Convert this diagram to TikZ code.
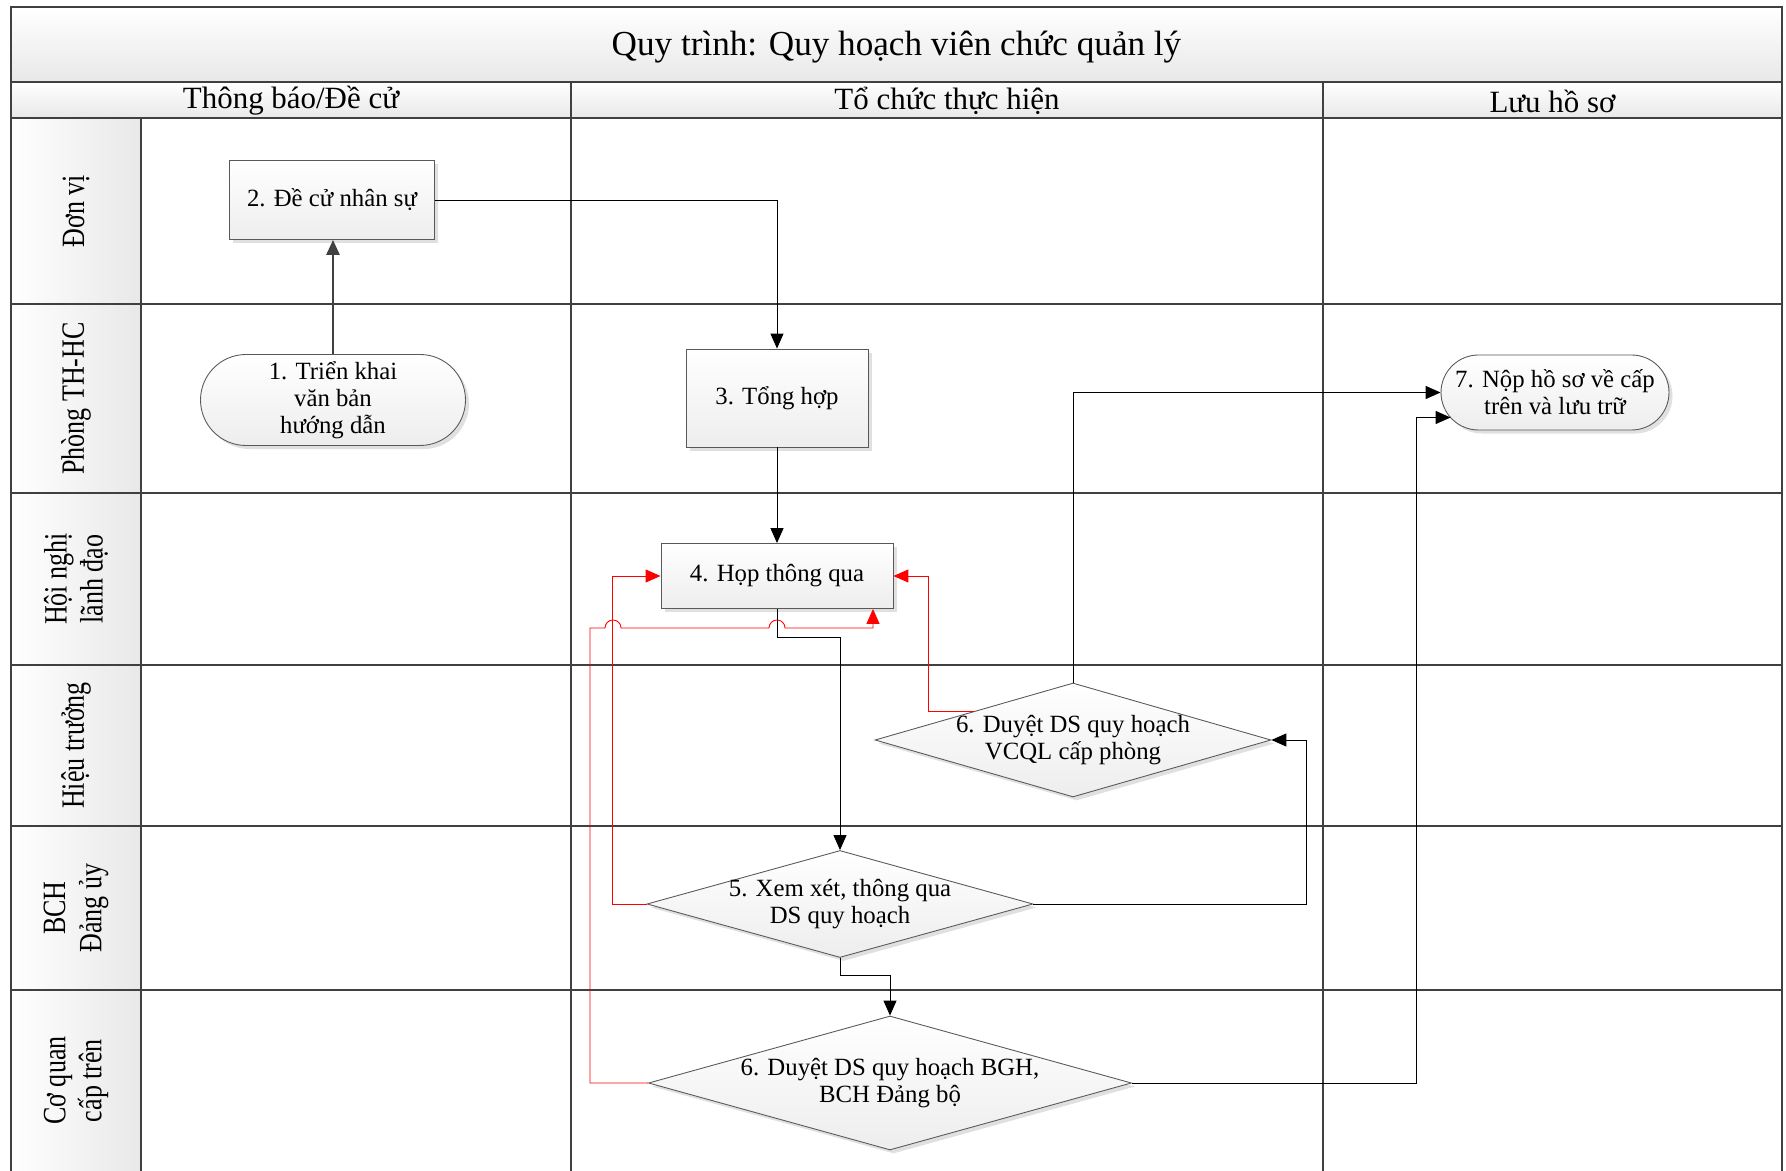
\documentclass[tikz,border=0pt]{standalone}
\usepackage{fontspec}
\setmainfont{Liberation Serif}
\newfontfamily\lanefont{Liberation Serif}[FakeStretch=0.8]
\usepackage{tikz}
\usepackage{xcolor}
\usetikzlibrary{arrows.meta,shapes.geometric,shapes.misc,shadows}
\tikzset{>={Triangle[length=8.5pt,width=7.4pt]}}
\tikzset{
  frame/.style={draw=black!75, line width=0.9pt},
  head/.style={font=\fontsize{17.6}{20}\selectfont},
  lane/.style={rotate=90, align=center, font=\lanefont\fontsize{18.5}{20.5}\selectfont},
  shape fill/.style={draw=black!65, line width=0.5pt, top color=white, bottom color=black!7,
    drop shadow={shadow xshift=2pt, shadow yshift=-2pt, fill=black!30, opacity=0.4},
    align=center, font=\fontsize{14.1}{15.4}\selectfont},
  box/.style={shape fill, rectangle, inner sep=0pt},
  term/.style={shape fill, rounded rectangle, inner sep=0pt},
  dec/.style={shape fill, diamond, aspect=3.5, inner xsep=-1cm, inner ysep=0pt},
  conn/.style={draw=black, line width=0.5pt, ->},
  redconn/.style={draw=red, line width=0.5pt, ->}
}
\begin{document}
\begin{tikzpicture}
    \useasboundingbox (0,0) rectangle (35.72,-23.42);
    \fill[top color=white, bottom color=black!9] (0.22,-0.14) rectangle (35.64,-1.64);
    \fill[top color=white, bottom color=black!9] (0.22,-1.64) rectangle (35.64,-2.36);
    \fill[left color=white, right color=black!9] (0.22,-2.36) rectangle (2.82,-23.42);
    \draw[frame] (0.22,-23.42) -- (0.22,-0.14) -- (35.64,-0.14) -- (35.64,-23.42);
    \draw[frame] (0.22,-1.64) -- (35.64,-1.64);
    \draw[frame] (0.22,-2.36) -- (35.64,-2.36);
    \foreach \y in {-6.08,-9.86,-13.3,-16.52,-19.8}
      \draw[frame] (0.22,\y) -- (35.64,\y);
    \draw[frame] (2.82,-2.36) -- (2.82,-23.42);
    \foreach \x in {11.42,26.46}
      \draw[frame] (\x,-1.64) -- (\x,-23.42);

    \node[font=\fontsize{20}{24}\selectfont] (title) at (17.93,-0.95) {Quy trình: Quy hoạch viên chức quản lý};
    \node[head] (col1) at (5.82,-2.02) {Thông báo/Đề cử};
    \node[head] (col2) at (18.94,-2.02) {Tổ chức thực hiện};
    \node[head] (col3) at (31.05,-2.02) {Lưu hồ sơ};
    \foreach \y/\t [count=\i] in {-4.22/{Đơn vị}, -7.97/{Phòng TH-HC}, -11.58/{Hội nghị\\lãnh đạo},
        -14.91/{Hiệu trưởng}, -18.16/{BCH\\Đảng ủy}, -21.61/{Cơ quan\\cấp trên}}
      \node[lane] (lane\i) at (1.52,\y) {\t};

    \node[box, minimum width=4.1cm, minimum height=1.58cm] (n2) at (6.64,-4.0) {2. Đề cử nhân sự};
    \node[term, minimum width=5.3cm, minimum height=1.82cm] (n1) at (6.66,-8.0) {1. Triển khai\\văn bản\\hướng dẫn};
    \node[box, minimum width=3.64cm, minimum height=1.96cm] (n3) at (15.54,-7.96) {3. Tổng hợp};
    \node[box, minimum width=4.64cm, minimum height=1.3cm] (n4) at (15.54,-11.52) {4. Họp thông qua};
    \node[dec, minimum width=7.92cm, minimum height=2.28cm] (n6a) at (21.46,-14.8) {6. Duyệt DS quy hoạch\\VCQL cấp phòng};
    \node[dec, minimum width=7.72cm, minimum height=2.14cm] (n5) at (16.8,-18.08) {5. Xem xét, thông qua\\DS quy hoạch};
    \node[dec, minimum width=9.66cm, minimum height=2.68cm] (n6b) at (17.8,-21.66) {6. Duyệt DS quy hoạch BGH,\\BCH Đảng bộ};
    \node[term, minimum width=4.56cm, minimum height=1.5cm] (n7) at (31.1,-7.85) {7. Nộp hồ sơ về cấp\\trên và lưu trữ};

    \draw[conn, draw=black!75, line width=1.4pt] (n1.north) -- (n1.north |- n2.south);
    \draw[conn] (n2.east) -| (n3.north);
    \draw[conn] (n3) -- (n4);
    \draw[conn] (n4.south) -- ++(0,-0.58) -| (n5.north);
    \draw[conn] (n5.south) -- ++(0,-0.34) -| (n6b.north);
    \draw[conn] (n5.east) -| ([xshift=0.7cm]n6a.east) -- (n6a.east);
    \draw[conn] (n6a.north) |- (n7.west);
    \draw[conn] (n6b.east) -| ([xshift=-0.48cm,yshift=-0.5cm]n7.west) -- ([xshift=0.2cm,yshift=-0.5cm]n7.west);

    \draw[redconn] (n6a.north west) -| ([xshift=0.7cm]n4.east) -- (n4.east);
    \draw[redconn] (n5.west) -| ([xshift=-0.96cm]n4.west) -- (n4.west);
    \draw[redconn] (n6b.west) -| (11.8,-12.56) -- (12.1,-12.56) arc[start angle=180, end angle=0, radius=0.16]
      -- (15.38,-12.56) arc[start angle=180, end angle=0, radius=0.16] -| ([xshift=1.92cm]n4.south);
  \end{tikzpicture}
\end{document}
